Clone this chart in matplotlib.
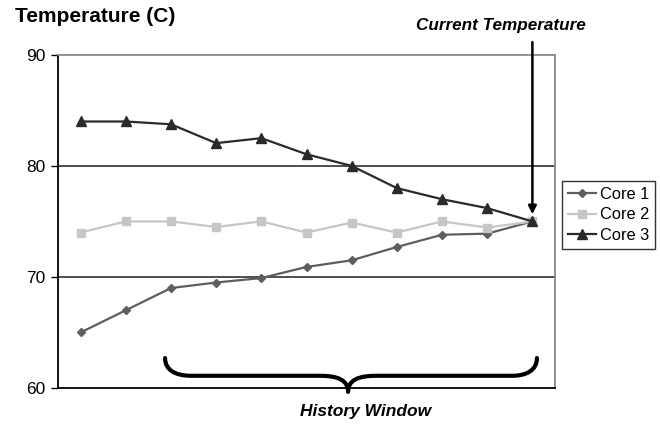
import numpy as np
import matplotlib
matplotlib.use('Agg')
import matplotlib.pyplot as plt
from matplotlib.path import Path
from matplotlib.patches import PathPatch

plt.rcParams['font.family'] = ['Liberation Sans', 'DejaVu Sans']

# temperature samples over the history window (oldest -> current)
core1 = [65, 67, 69, 69.5, 69.9, 70.9, 71.5, 72.7, 73.8, 73.9, 75]
core2 = [74, 75, 75, 74.5, 75, 74, 74.9, 74, 75, 74.45, 75]
core3 = [84, 84, 83.75, 82.05, 82.5, 81.05, 80, 78, 77, 76.2, 75]
names = ["Core 1", "Core 2", "Core 3"]
yticks = [60, 70, 80, 90]

x = np.arange(len(core1))

fig = plt.figure(figsize=(6.6, 4.26), dpi=100)
ax = fig.add_axes([0.0879, 0.0892, 0.753, 0.782])

ax.plot(x, core1, color='#5e5e5e', marker='D', markersize=4.5, linewidth=1.6, label=names[0])
ax.plot(x, core2, color='#c6c6c6', marker='s', markersize=6, linewidth=1.6, label=names[1])
ax.plot(x, core3, color='#2a2a2a', marker='^', markersize=7, linewidth=1.6, label=names[2])

ax.set_xlim(-0.5, len(core1) - 0.5)
ax.set_ylim(60, 90)
ax.set_yticks(yticks)
ax.set_xticks([])
ax.tick_params(axis='y', direction='out', length=5, width=1, labelsize=12.5, pad=4)
for v in yticks[1:-1]:
    ax.axhline(v, color='#303030', linewidth=1.2, zorder=0)
ax.spines['left'].set_color('black')
ax.spines['bottom'].set_color('black')
ax.spines['left'].set_linewidth(1.3)
ax.spines['bottom'].set_linewidth(1.3)
ax.spines['top'].set_color('#8a8a8a')
ax.spines['right'].set_color('#8a8a8a')
ax.spines['top'].set_linewidth(1.3)
ax.spines['right'].set_linewidth(1.3)

leg = ax.legend(loc='center left', bbox_to_anchor=(1.015, 0.52), fontsize=11.8,
                frameon=True, fancybox=False, edgecolor='black', handlelength=1.7,
                handletextpad=0.25, borderpad=0.35, labelspacing=0.35, borderaxespad=0)
leg.get_frame().set_linewidth(1.0)

fig.text(0.022, 0.962, "Temperature (C)", fontsize=15, fontweight='bold', ha='left', va='center')

# arrow pointing at the latest sample
ax.annotate("", xy=(10, 75.4), xytext=(10, 91.4), annotation_clip=False,
            arrowprops=dict(arrowstyle='-|>', color='black', lw=1.8, mutation_scale=12))
ax.text(9.3, 92.6, "Current Temperature", fontsize=12.3, fontweight='bold', fontstyle='italic',
        ha='center', va='center', clip_on=False)

# curly brace under the history window
verts = [(1.87, 62.7), (1.87, 61.6), (2.1, 61.1), (2.45, 61.1),
         (5.3, 61.1),
         (5.7, 61.1), (5.92, 60.7), (5.92, 59.65),
         (5.92, 60.7), (6.14, 61.1), (6.54, 61.1),
         (9.55, 61.1),
         (9.87, 61.1), (10.1, 61.6), (10.1, 62.7)]
codes = [Path.MOVETO, Path.CURVE4, Path.CURVE4, Path.CURVE4,
         Path.LINETO,
         Path.CURVE4, Path.CURVE4, Path.CURVE4,
         Path.CURVE4, Path.CURVE4, Path.CURVE4,
         Path.LINETO,
         Path.CURVE4, Path.CURVE4, Path.CURVE4]
ax.add_patch(PathPatch(Path(verts, codes), facecolor='none', edgecolor='black',
                       lw=3, clip_on=False, capstyle='round', joinstyle='round'))
ax.text(6.31, 57.85, "History Window", fontsize=12.5, fontweight='bold', fontstyle='italic',
        ha='center', va='center', clip_on=False)

fig.savefig("out.png", dpi=100)
